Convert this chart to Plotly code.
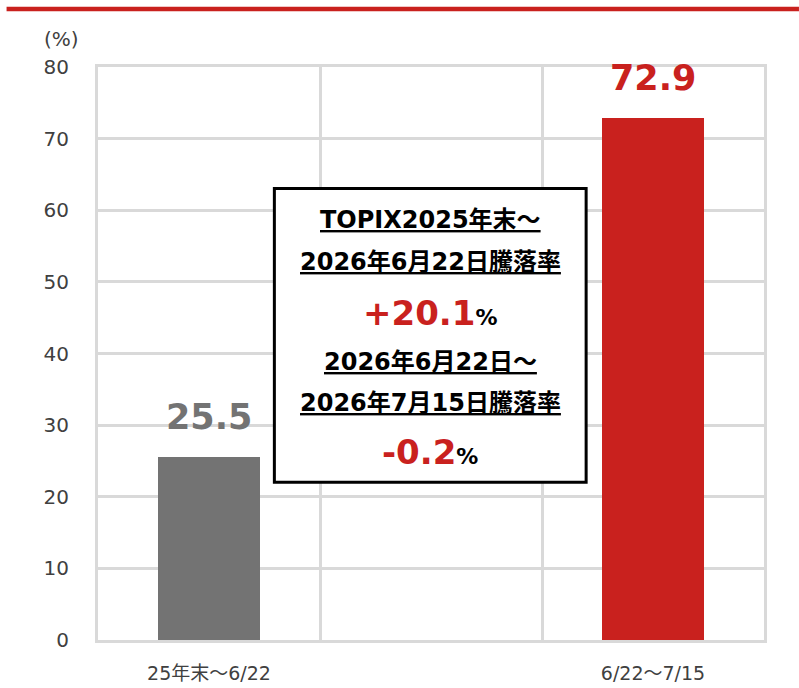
import plotly.graph_objects as go

# ---- data ----
categories = ["25年末～6/22", " ", "6/22～7/15"]
bar_categories = ["25年末～6/22", "6/22～7/15"]
bar_values = [25.5, 72.9]
bar_colors = ["#737373", "#C9211E"]
y_ticks = [0, 10, 20, 30, 40, 50, 60, 70, 80]
unit_label = "(%)"
box_lines = [
    "TOPIX2025年末～",
    "2026年6月22日騰落率",
    "+20.1",
    "2026年6月22日～",
    "2026年7月15日騰落率",
    "-0.2",
]

W, H = 799, 688
L, R, T, B = 97.5, 35, 66.5, 48
pw, ph = W - L - R, H - T - B

def px_x(p):
    return (p - L) / pw

def px_y(p):
    return (H - B - p) / ph

RED = "#C9211E"
GRID = "#D9D9D9"
TXT = "#404040"
LATIN = "DejaVu Sans, Noto Sans CJK JP, sans-serif"

fig = go.Figure()
fig.add_trace(go.Bar(
    x=bar_categories, y=bar_values, marker=dict(color=bar_colors, line=dict(width=0)),
    width=0.46, hoverinfo="skip", showlegend=False,
))

annotations = []
for c, v, col in zip(bar_categories, bar_values, bar_colors):
    annotations.append(dict(
        x=c, y=v, xref="x", yref="y", text=f"<b>{v:.1f}</b>", showarrow=False,
        yanchor="bottom", yshift=18,
        font=dict(family=LATIN, size=35, color=col),
    ))

annotations.append(dict(
    x=px_x(80), y=px_y(38), xref="paper", yref="paper", text=unit_label,
    showarrow=False, xanchor="right", yanchor="middle",
    font=dict(family=LATIN, size=20, color=TXT),
))

# box text lines
cx = px_x(430)
line_y = [220, 262, 313, 362, 403, 452]
for i, (txt, yy) in enumerate(zip(box_lines, line_y)):
    if i in (2, 5):
        t = (f'<b><span style="color:{RED};font-size:34px">{txt}</span>'
             f'<span style="font-size:22px">%</span></b>')
    else:
        t = f"<b><u>{txt}</u></b>"
    annotations.append(dict(
        x=cx, y=px_y(yy), xref="paper", yref="paper", text=t, showarrow=False,
        xanchor="center", yanchor="middle",
        font=dict(family=LATIN, size=24, color="#000000"),
    ))

shapes = [
    dict(type="line", xref="paper", yref="paper", x0=px_x(6), x1=px_x(799),
         y0=px_y(8.5), y1=px_y(8.5), line=dict(color=RED, width=4.5), layer="above"),
    dict(type="rect", xref="paper", yref="paper", x0=px_x(274), x1=px_x(586),
         y0=px_y(482), y1=px_y(188), fillcolor="white",
         line=dict(color="#000000", width=3), layer="above"),
]

fig.update_layout(
    width=W, height=H, autosize=False,
    margin=dict(l=L, r=R, t=T, b=B, pad=0, autoexpand=False),
    paper_bgcolor="white", plot_bgcolor="white",
    annotations=annotations, shapes=shapes,
    bargap=0,
    xaxis=dict(
        type="category", categoryorder="array", categoryarray=categories,
        range=[-0.5, 2.5], tickson="boundaries", ticks="",
        showgrid=True, gridcolor=GRID, gridwidth=3,
        showline=True, linecolor=GRID, linewidth=3, mirror=True,
        tickfont=dict(family=LATIN, size=19, color=TXT),
        ticklabelstandoff=14, fixedrange=True, automargin=False,
    ),
    yaxis=dict(
        range=[0, 80], tickvals=y_ticks, ticks="",
        showgrid=True, gridcolor=GRID, gridwidth=3,
        zeroline=False,
        showline=True, linecolor=GRID, linewidth=3, mirror=True,
        tickfont=dict(family=LATIN, size=20, color=TXT),
        ticklabelstandoff=22, fixedrange=True, automargin=False,
    ),
)

fig.write_html("out.html")
